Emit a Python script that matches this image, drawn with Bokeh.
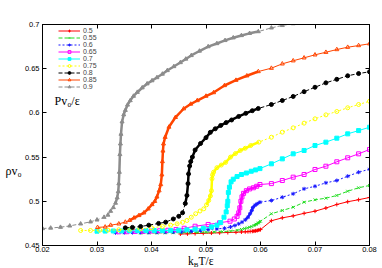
from bokeh.plotting import figure
from bokeh.models import Legend, LegendItem, Label, LinearAxis, FixedTicker, Range1d, Div
from bokeh.layouts import column
from bokeh.embed import file_html
from bokeh.resources import INLINE

# ---------------- data ----------------
series_labels = ["0.5", "0.55", "0.6", "0.65", "0.7", "0.75", "0.8", "0.85", "0.9"]

x_050 = [0.0453, 0.0466, 0.0480, 0.0495, 0.0510, 0.0525, 0.0540, 0.0555, 0.0565, 0.0572,
         0.0577, 0.0581, 0.0585, 0.0588, 0.0591, 0.0594, 0.0597, 0.0600,
         0.062, 0.064, 0.066, 0.068, 0.070, 0.072, 0.074, 0.076, 0.078, 0.080]
y_050 = [0.4630, 0.4632, 0.4635, 0.4638, 0.4641, 0.4644, 0.4647, 0.4650, 0.4653, 0.4655,
         0.4657, 0.4659, 0.4661, 0.4663, 0.4666, 0.4670, 0.4675, 0.4680,
         0.4780, 0.4813, 0.4835, 0.4864, 0.4888, 0.4924, 0.4964, 0.4995, 0.5018, 0.5043]

x_055 = [0.0380, 0.0395, 0.0410, 0.0425, 0.0440, 0.0455, 0.0470, 0.0485, 0.0500, 0.0515,
         0.0530, 0.0545, 0.0557, 0.0565, 0.0571, 0.0576, 0.0580, 0.0584, 0.0588, 0.0592,
         0.0596, 0.0600,
         0.062, 0.064, 0.066, 0.068, 0.070, 0.072, 0.074, 0.076, 0.078, 0.080]
y_055 = [0.4640, 0.4641, 0.4642, 0.4643, 0.4644, 0.4645, 0.4646, 0.4648, 0.4650, 0.4653,
         0.4657, 0.4663, 0.4672, 0.4682, 0.4692, 0.4700, 0.4707, 0.4715, 0.4726, 0.4740,
         0.4755, 0.4775,
         0.4859, 0.4896, 0.4933, 0.4990, 0.5017, 0.5035, 0.5066, 0.5114, 0.5153, 0.5179]

x_060 = [0.0334, 0.0350, 0.0365, 0.0380, 0.0395, 0.0410, 0.0425, 0.0440, 0.0455, 0.0473,
         0.0490, 0.0504, 0.0520, 0.0534, 0.0545, 0.0553, 0.0560, 0.0566, 0.0572, 0.0577,
         0.0581, 0.0584, 0.0586, 0.0590, 0.0594, 0.0599,
         0.062, 0.064, 0.066, 0.068, 0.070, 0.072, 0.074, 0.076, 0.078, 0.080]
y_060 = [0.4644, 0.4645, 0.4646, 0.4647, 0.4648, 0.4649, 0.4650, 0.4652, 0.4655, 0.4660,
         0.4668, 0.4680, 0.4688, 0.4695, 0.4710, 0.4726, 0.4745, 0.4764, 0.4790, 0.4820,
         0.4860, 0.4896, 0.4930, 0.4956, 0.4972, 0.4990,
         0.5009, 0.5046, 0.5085, 0.5141, 0.5170, 0.5209, 0.5235, 0.5284, 0.5329, 0.5363]

x_065 = [0.0340, 0.0355, 0.0370, 0.0385, 0.0400, 0.0415, 0.0430, 0.0445, 0.0460, 0.0480,
         0.0504, 0.0525, 0.0544, 0.0552, 0.0557, 0.0560, 0.0562, 0.0564, 0.0566, 0.0569,
         0.0574, 0.0580, 0.0587, 0.0593, 0.0599,
         0.062, 0.064, 0.066, 0.068, 0.070, 0.072, 0.074, 0.076, 0.078, 0.080]
y_065 = [0.4655, 0.4656, 0.4658, 0.4660, 0.4663, 0.4667, 0.4672, 0.4680, 0.4695, 0.4718,
         0.4738, 0.4757, 0.4775, 0.4800, 0.4830, 0.4870, 0.4926, 0.5000, 0.5050, 0.5090,
         0.5120, 0.5140, 0.5153, 0.5170, 0.5190,
         0.5200, 0.5235, 0.5273, 0.5303, 0.5360, 0.5397, 0.5447, 0.5492, 0.5537, 0.5586]

x_070 = [0.0300, 0.0315, 0.0330, 0.0345, 0.0360, 0.0375, 0.0390, 0.0405, 0.0420, 0.0435,
         0.0450, 0.0465, 0.0480, 0.0495, 0.0510, 0.0520, 0.0527, 0.0533, 0.0537, 0.0539,
         0.0540, 0.0541, 0.0543, 0.0546, 0.0550, 0.0557, 0.0565, 0.0574, 0.0583, 0.0591,
         0.0599,
         0.062, 0.064, 0.066, 0.068, 0.070, 0.072, 0.074, 0.076, 0.078, 0.080]
y_070 = [0.4662, 0.4663, 0.4664, 0.4665, 0.4666, 0.4667, 0.4668, 0.4669, 0.4670, 0.4671,
         0.4673, 0.4677, 0.4685, 0.4695, 0.4710, 0.4730, 0.4760, 0.4820, 0.4880, 0.4950,
         0.5000, 0.5100, 0.5160, 0.5220, 0.5250, 0.5280, 0.5303, 0.5320, 0.5340, 0.5355,
         0.5370,
         0.5424, 0.5480, 0.5537, 0.5575, 0.5631, 0.5669, 0.5714, 0.5763, 0.5800, 0.5838]

x_075 = [0.0270, 0.0288, 0.0305, 0.0320, 0.0340, 0.0360, 0.0380, 0.0400, 0.0420, 0.0435,
         0.0447, 0.0457, 0.0465, 0.0473, 0.0481, 0.0489, 0.0496, 0.0501, 0.0505, 0.0508,
         0.0510, 0.0511, 0.0512, 0.0514, 0.0520, 0.0528, 0.0536, 0.0545, 0.0554, 0.0563,
         0.0572, 0.0582, 0.0597,
         0.062, 0.064, 0.066, 0.068, 0.070, 0.072, 0.074, 0.076, 0.078, 0.080]
y_075 = [0.4670, 0.4670, 0.4672, 0.4674, 0.4678, 0.4683, 0.4690, 0.4700, 0.4715, 0.4730,
         0.4745, 0.4762, 0.4783, 0.4820, 0.4859, 0.4890, 0.4915, 0.4960, 0.5010, 0.5060,
         0.5120, 0.5255, 0.5300, 0.5330, 0.5380, 0.5410, 0.5440, 0.5500, 0.5540, 0.5575,
         0.5600, 0.5631, 0.5669,
         0.5725, 0.5782, 0.5831, 0.5884, 0.5933, 0.5978, 0.6016, 0.6058, 0.6095, 0.6132]

x_080 = [0.0352, 0.0365, 0.0380, 0.0395, 0.0413, 0.0426, 0.0440, 0.0450, 0.0457, 0.0462,
         0.0465, 0.0467, 0.0468, 0.0470, 0.0472, 0.0475, 0.0480, 0.0490, 0.0500, 0.0508,
         0.0517, 0.0527, 0.0537, 0.0547, 0.0560, 0.0573, 0.0585, 0.0596,
         0.062, 0.064, 0.066, 0.068, 0.070, 0.072, 0.074, 0.076, 0.078, 0.080]
y_080 = [0.4700, 0.4705, 0.4715, 0.4730, 0.4750, 0.4764, 0.4800, 0.4830, 0.4870, 0.4975,
         0.5066, 0.5200, 0.5310, 0.5400, 0.5450, 0.5500, 0.5580, 0.5654, 0.5720, 0.5780,
         0.5820, 0.5858, 0.5890, 0.5920, 0.5960, 0.5995, 0.6025, 0.6050,
         0.6095, 0.6140, 0.6186, 0.6240, 0.6290, 0.6340, 0.6380, 0.6420, 0.6445, 0.6465]

x_085 = [0.0301, 0.0315, 0.0325, 0.0340, 0.0352, 0.0360, 0.0368, 0.0377, 0.0386, 0.0394,
         0.0401, 0.0406, 0.0410, 0.0414, 0.0417, 0.0419, 0.0420, 0.0421, 0.0422, 0.0425,
         0.0432, 0.0444, 0.0459, 0.0472, 0.0484, 0.0500, 0.0514, 0.0534, 0.0555, 0.0575,
         0.0596,
         0.062, 0.064, 0.066, 0.068, 0.070, 0.072, 0.074, 0.076, 0.078, 0.080]
y_085 = [0.4705, 0.4710, 0.4730, 0.4745, 0.4765, 0.4785, 0.4813, 0.4840, 0.4870, 0.4915,
         0.4964, 0.5000, 0.5050, 0.5120, 0.5190, 0.5300, 0.5450, 0.5570, 0.5650, 0.5725,
         0.5840, 0.5950, 0.6047, 0.6100, 0.6140, 0.6190, 0.6230, 0.6310, 0.6370, 0.6420,
         0.6468,
         0.6506, 0.6555, 0.6590, 0.6623, 0.6657, 0.6686, 0.6717, 0.6743, 0.6762, 0.6782]

x_090 = [0.0200, 0.0215, 0.0233, 0.0250, 0.0270, 0.0288, 0.0300, 0.0313, 0.0320, 0.0325,
         0.0330, 0.0334, 0.0337, 0.0339, 0.0340, 0.0341, 0.0342, 0.0343, 0.0344, 0.0346,
         0.0349, 0.0352, 0.0356, 0.0361, 0.0367, 0.0374, 0.0383, 0.0392, 0.0401, 0.0410,
         0.0420, 0.0429, 0.0441, 0.0453, 0.0463, 0.0473, 0.0488, 0.0504, 0.0520, 0.0535,
         0.0550, 0.0565, 0.0580, 0.0596,
         0.062, 0.064, 0.066, 0.068]
y_090 = [0.4692, 0.4698, 0.4707, 0.4722, 0.4745, 0.4768, 0.4790, 0.4820, 0.4845, 0.4888,
         0.4930, 0.4980, 0.5040, 0.5110, 0.5200, 0.5330, 0.5530, 0.5650, 0.5760, 0.5900,
         0.5980, 0.6030, 0.6090, 0.6140, 0.6190, 0.6234, 0.6285, 0.6330, 0.6365, 0.6400,
         0.6440, 0.6480, 0.6525, 0.6570, 0.6610, 0.6650, 0.6700, 0.6750, 0.6785, 0.6820,
         0.6850, 0.6876, 0.6900, 0.6920,
         0.6962, 0.6990, 0.7010, 0.7040]

xs = [x_050, x_055, x_060, x_065, x_070, x_075, x_080, x_085, x_090]
ys = [y_050, y_055, y_060, y_065, y_070, y_075, y_080, y_085, y_090]

# where each curve's densely sampled (thick-looking) stretch begins and ends
dense_from = [0.0585, 0.0585, 0.0570, 0.0555, 0.0535, 0.0500, 0.0462, 0.0360, 0.0334]
dense_to = 0.0600

x_ticks = [0.02, 0.03, 0.04, 0.05, 0.06, 0.07, 0.08]
x_tick_labels = ["0.02", "0.03", "0.04", "0.05", "0.06", "0.07", "0.08"]
y_ticks = [0.45, 0.5, 0.55, 0.6, 0.65, 0.7]
y_tick_labels = ["0.45", "0.5", "0.55", "0.6", "0.65", "0.7"]

# ---------------- styles ----------------
colors = ["#ff0000", "#22dd22", "#1a1aff", "#ff00ff", "#00ffff", "#ffff00", "#000000", "#ff4500", "#8c8c8c"]
markers = ["cross", "x", "asterisk", "square", "square", "circle", "circle", "triangle", "triangle"]
filled = [False, False, False, False, True, False, True, False, True]
dashes = ["solid", "4 2", "2 2", "solid", "solid", "2 2", "4 2", "solid", "4 2"]

p = figure(width=382, height=255, output_backend="svg", toolbar_location=None,
           x_range=Range1d(0.02, 0.08), y_range=Range1d(0.45, 0.7),
           min_border_left=42, min_border_right=13, min_border_top=24, min_border_bottom=10)
p.xgrid.visible = False
p.ygrid.visible = False
p.outline_line_color = "black"
p.outline_line_width = 1
p.background_fill_color = "white"
p.border_fill_color = "white"

FONT = "Liberation Sans"
SERIF = "Liberation Serif"

def style_axis(ax, ticks, labels, show_labels=True):
    ax.ticker = FixedTicker(ticks=ticks)
    if show_labels:
        ax.major_label_overrides = {t: l for t, l in zip(ticks, labels)}
    else:
        ax.major_label_overrides = {t: "" for t in ticks}
    ax.major_tick_in = 4
    ax.major_tick_out = 0
    ax.minor_tick_line_color = None
    ax.axis_line_color = "black"
    ax.major_tick_line_color = "black"
    ax.major_label_text_font = FONT
    ax.major_label_text_font_size = "7.5px"
    ax.major_label_text_color = "black"
    ax.major_label_standoff = 1

style_axis(p.xaxis[0], x_ticks, x_tick_labels)
style_axis(p.yaxis[0], y_ticks, y_tick_labels)
p.yaxis[0].major_label_standoff = 3
top_ax = LinearAxis()
right_ax = LinearAxis()
style_axis(top_ax, x_ticks, x_tick_labels, show_labels=False)
style_axis(right_ax, y_ticks, y_tick_labels, show_labels=False)
p.add_layout(top_ax, "above")
p.add_layout(right_ax, "right")

items = []
for lab, x, y, c, m, f, d, d0 in zip(series_labels, xs, ys, colors, markers, filled, dashes, dense_from):
    lr = p.line(x, y, line_color=c, line_width=1, line_dash=d)
    bx = [xv for xv in x if d0 <= xv <= dense_to]
    by = [yv for xv, yv in zip(x, y) if d0 <= xv <= dense_to]
    p.line(bx, by, line_color=c, line_width=2.5)
    sr = p.scatter(x, y, marker=m, size=4, line_color=c, line_width=1,
                   fill_color=c if f else None)
    items.append(LegendItem(label=lab, renderers=[lr, sr]))

legend = Legend(items=items, location=(16, 155), orientation="vertical",
                label_text_font=FONT, label_text_font_size="7px",
                label_text_line_height=0.9,
                label_height=7, glyph_height=7, glyph_width=22, spacing=0,
                padding=0, margin=0, label_standoff=3,
                background_fill_alpha=0, border_line_color=None)
p.add_layout(legend)

p.add_layout(Label(x=12, y=145, x_units="screen", y_units="screen", text="Pv₀/ε",
                   text_baseline="alphabetic",
                   text_font=SERIF, text_font_size="12px", text_color="black"))

# y-axis title, horizontal, in its own panel left of the axis
p.add_layout(Label(x=0, y=75, x_units="screen", y_units="screen", text="ρv₀",
                   text_baseline="alphabetic",
                   text_font=SERIF, text_font_size="12px", text_color="black"), "left")

# x-axis title with a subscript, as HTML text under the plot
xlabel = Div(text=('<div style="position:relative;top:-2px;margin-left:188px;'
                   'font-family:\'Liberation Serif\',serif;font-size:11.5px;line-height:11px;'
                   'white-space:nowrap;color:black;">'
                   'k<span style="position:relative;top:2px;font-size:7px;line-height:0;">B</span>T/ε</div>'),
             width=382, height=13, margin=(0, 0, 0, 0))

layout = column(p, xlabel, spacing=0)
open("out.html", "w").write(file_html(layout, INLINE))
